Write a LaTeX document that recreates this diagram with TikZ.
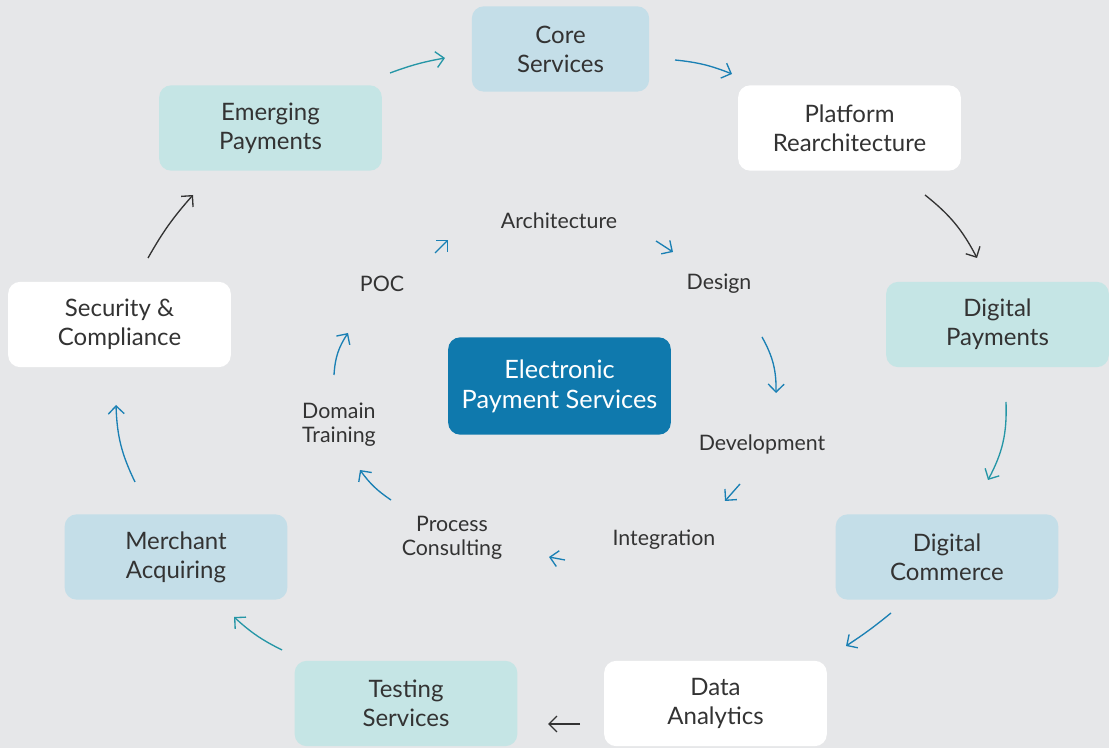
\documentclass[tikz,border=0pt]{standalone}
\usepackage{fontspec}
\setmainfont{Lato}
\usetikzlibrary{arrows.meta}
\definecolor{bg}{HTML}{E6E7E9}
\definecolor{lblue}{HTML}{C4DEE8}
\definecolor{lteal}{HTML}{C5E5E5}
\definecolor{cblue}{HTML}{0F79AD}
\definecolor{ablue}{HTML}{1A80B4}
\definecolor{ateal}{HTML}{2596A6}
\definecolor{adark}{HTML}{333333}
\definecolor{txt}{HTML}{333333}
\tikzset{
  box/.style={rounded corners=9pt, minimum width=167pt, minimum height=64pt, align=center, text=txt, font=\fontsize{18}{21.75}\selectfont},
  bluebox/.style={box, fill=lblue},
  tealbox/.style={box, fill=lteal},
  whitebox/.style={box, fill=white},
  centerbox/.style={rounded corners=9pt, fill=cblue, minimum width=167pt, minimum height=73pt, align=center, text=white, font=\fontsize{19}{22.5}\selectfont},
  lbl/.style={text=txt, font=\fontsize{16}{18}\selectfont, align=center},
  arr/.style={line width=1pt, -{Straight Barb[length=6pt,width=12pt]}},
  barr/.style={arr, ablue},
  tarr/.style={arr, ateal},
  darr/.style={arr, adark},
}
\begin{document}
\begin{tikzpicture}[x=0.75pt,y=0.75pt]
\fill[bg] (0,0) rectangle (1109,748);
\useasboundingbox (0,0) rectangle (1109,748);
% outer nodes
\node[bluebox, minimum width=133pt] (core) at (560.5,699) {Core\\Services};
\node[tealbox] (emerg) at (270.5,620) {Emerging\\Payments};
\node[whitebox] (plat) at (849.5,620) {Platform\\Rearchitecture};
\node[tealbox] (dpay) at (997.5,423.5) {Digital\\Payments};
\node[whitebox] (sec) at (119.5,423.5) {Security \&\\Compliance};
\node[centerbox] (eps) at (559.5,362) {Electronic\\Payment Services};
\node[bluebox] (merch) at (176,191) {Merchant\\Acquiring};
\node[bluebox] (dcom) at (947,191) {Digital\\Commerce};
\node[tealbox] (test) at (406,44.5) {Testing\\Services};
\node[whitebox] (data) at (715.5,44.5) {Data\\Analytics};
% inner labels
\node[lbl] (arch) at (559,527) {Architecture};
\node[lbl] (poc) at (382,464) {POC};
\node[lbl] (design) at (719,464) {Design};
\node[lbl, align=left] (domain) at (339,323) {Domain\\Training};
\node[lbl] (dev) at (762,304) {Development};
\node[lbl] (integ) at (664,208) {Integration};
\node[lbl] (proc) at (452,210) {Process\\Consulting};
% outer arrow coordinates
\coordinate (a1s) at (390,675); \coordinate (a1e) at (445,690);
\coordinate (a2s) at (675,688); \coordinate (a2e) at (732,674);
\coordinate (a3s) at (925,553); \coordinate (a3e) at (977,490);
\coordinate (a4s) at (1006,346); \coordinate (a4e) at (988,268);
\coordinate (a5s) at (891,135); \coordinate (a5e) at (846,102);
\coordinate (a6s) at (580,24); \coordinate (a6e) at (548,24);
\coordinate (a7s) at (282,98); \coordinate (a7e) at (234,131);
\coordinate (a8s) at (135,266); \coordinate (a8e) at (116,343);
\coordinate (a9s) at (148,490); \coordinate (a9e) at (193,553);
\draw[tarr] (a1s) to[bend left=5] (a1e);
\draw[barr] (a2s) to[bend left=8] (a2e);
\draw[darr] (a3s) to[bend left=12] (a3e);
\draw[tarr] (a4s) to[bend left=15] (a4e);
\draw[barr] (a5s) to[bend left=3] (a5e);
\draw[darr] (a6s) -- (a6e);
\draw[tarr] (a7s) to[bend left=8] (a7e);
\draw[barr] (a8s) to[bend left=12] (a8e);
\draw[darr] (a9s) to[bend left=6] (a9e);
% inner arrow coordinates
\coordinate (b1s) at (435,495); \coordinate (b1e) at (448,508);
\coordinate (b2s) at (656,507); \coordinate (b2e) at (673,496);
\coordinate (b3s) at (762,411); \coordinate (b3e) at (776,355);
\coordinate (b4s) at (740,264); \coordinate (b4e) at (725,247);
\coordinate (b5s) at (565,188); \coordinate (b5e) at (549,191);
\coordinate (b6s) at (391,248); \coordinate (b6e) at (360,278);
\coordinate (b7s) at (334,373); \coordinate (b7e) at (348,415);
\draw[barr] (b1s) -- (b1e);
\draw[barr] (b2s) -- (b2e);
\draw[barr] (b3s) to[bend left=15] (b3e);
\draw[barr] (b4s) -- (b4e);
\draw[barr] (b5s) -- (b5e);
\draw[barr] (b6s) to[bend left=10] (b6e);
\draw[barr] (b7s) to[bend left=15] (b7e);
\end{tikzpicture}
\end{document}
